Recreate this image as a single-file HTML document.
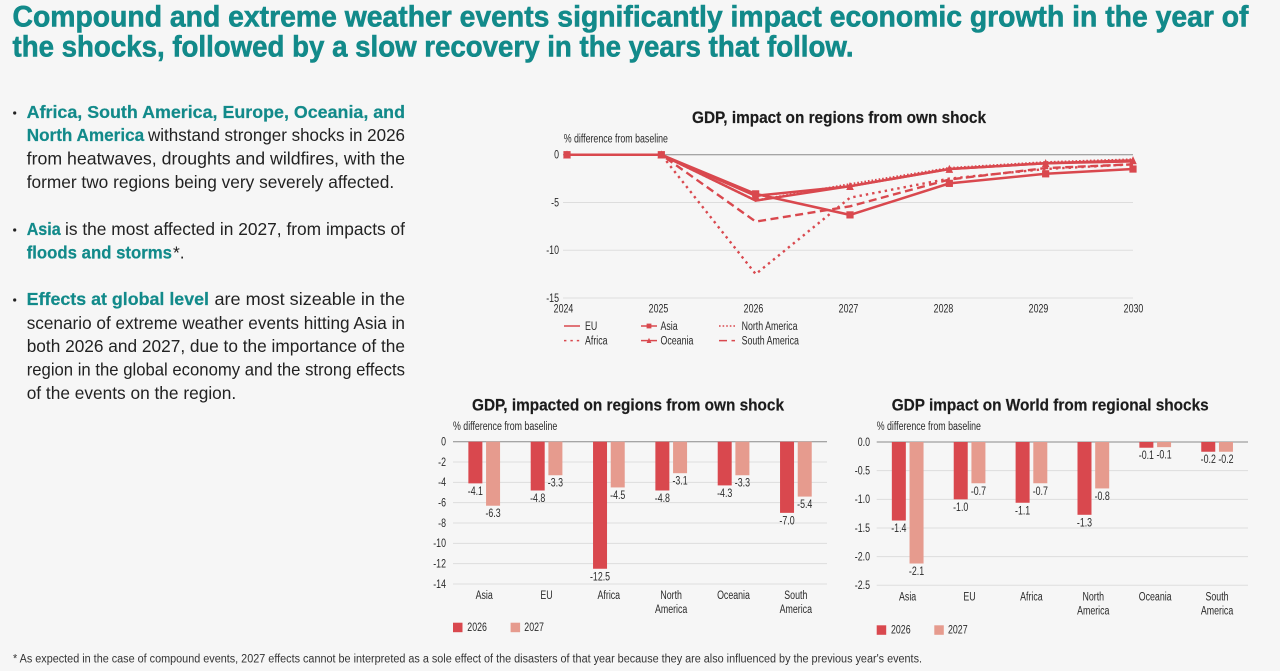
<!DOCTYPE html>
<html lang="en">
<head>
<meta charset="utf-8">
<title>Compound and extreme weather events</title>
<style>
html,body{margin:0;padding:0;background:#f6f6f6;width:1280px;height:671px;overflow:hidden}
svg{display:block;font-family:"Liberation Sans",sans-serif}
.h{font-size:30px;font-weight:700;fill:#128a8a;stroke:#128a8a;stroke-width:.6px}
.b{font-size:17.5px;fill:#222}
.bb{font-size:17.5px;font-weight:700;fill:#128a8a;stroke:#128a8a;stroke-width:.2px}
.t{font-size:16.5px;font-weight:700;fill:#1c1c1c;stroke:#1c1c1c;stroke-width:.2px}
.f{font-size:11.5px;fill:#333}
</style>
</head>
<body>
<svg id="page" xmlns="http://www.w3.org/2000/svg" width="1280" height="671" viewBox="0 0 1280 671">
<rect width="1280" height="671" fill="#f6f6f6"/>
<g>
<text class="h" x="12.5" y="26.7" textLength="1236" lengthAdjust="spacingAndGlyphs">Compound and extreme weather events significantly impact economic growth in the year of</text>
<text class="h" x="12.5" y="56.7" textLength="841" lengthAdjust="spacingAndGlyphs">the shocks, followed by a slow recovery in the years that follow.</text>
</g>
<g>
<circle cx="14.7" cy="113" r="1.6" fill="#222"/>
<circle cx="14.7" cy="230" r="1.6" fill="#222"/>
<circle cx="14.7" cy="300" r="1.6" fill="#222"/>
<text class="bb" x="26.7" y="118" textLength="378.3" lengthAdjust="spacingAndGlyphs">Africa, South America, Europe, Oceania, and</text>
<text class="bb" x="26.7" y="140.8" textLength="117.5" lengthAdjust="spacingAndGlyphs">North America</text>
<text class="b" x="148" y="140.8" textLength="257" lengthAdjust="spacingAndGlyphs">withstand stronger shocks in 2026</text>
<text class="b" x="26.7" y="164.3" textLength="378.3" lengthAdjust="spacingAndGlyphs">from heatwaves, droughts and wildfires, with the</text>
<text class="b" x="26.7" y="188" textLength="367.5" lengthAdjust="spacingAndGlyphs">former two regions being very severely affected.</text>
<text class="bb" x="26.7" y="235" textLength="34" lengthAdjust="spacingAndGlyphs">Asia</text>
<text class="b" x="65" y="235" textLength="340" lengthAdjust="spacingAndGlyphs">is the most affected in 2027, from impacts of</text>
<text class="bb" x="26.7" y="258.3" textLength="145.3" lengthAdjust="spacingAndGlyphs">floods and storms</text>
<text class="b" x="173" y="258.3">*.</text>
<text class="bb" x="26.7" y="305" textLength="182.3" lengthAdjust="spacingAndGlyphs">Effects at global level</text>
<text class="b" x="214.5" y="305" textLength="190.5" lengthAdjust="spacingAndGlyphs">are most sizeable in the</text>
<text class="b" x="26.7" y="329" textLength="378.3" lengthAdjust="spacingAndGlyphs">scenario of extreme weather events hitting Asia in</text>
<text class="b" x="26.7" y="351.8" textLength="378.3" lengthAdjust="spacingAndGlyphs">both 2026 and 2027, due to the importance of the</text>
<text class="b" x="26.7" y="375.6" textLength="378.3" lengthAdjust="spacingAndGlyphs">region in the global economy and the strong effects</text>
<text class="b" x="26.7" y="399" textLength="209.5" lengthAdjust="spacingAndGlyphs">of the events on the region.</text>
</g>
<text class="t" x="692" y="123" textLength="294" lengthAdjust="spacingAndGlyphs">GDP, impact on regions from own shock</text>
<text class="t" x="472" y="410.5" textLength="312" lengthAdjust="spacingAndGlyphs">GDP, impacted on regions from own shock</text>
<text class="t" x="891.7" y="410.5" textLength="317" lengthAdjust="spacingAndGlyphs">GDP impact on World from regional shocks</text>
<text class="f" x="13" y="662.5" textLength="909" lengthAdjust="spacingAndGlyphs">* As expected in the case of compound events, 2027 effects cannot be interpreted as a sole effect of the disasters of that year because they are also influenced by the previous year's events.</text>
<g id="line-chart"></g>
<g id="bars-regions"></g>
<g id="bars-world"></g>
</svg>
<script>
// ---- line chart data ----
const lineYears = [2024, 2025, 2026, 2027, 2028, 2029, 2030];
const lineTicks = [0, -5, -10, -15];
const lineEU = [0, 0, -4.8, -3.3, -1.5, -0.9, -0.7];
const lineAsia = [0, 0, -4.1, -6.3, -3.0, -2.0, -1.5];
const lineOceania = [0, 0, -4.3, -3.3, -1.5, -0.9, -0.6];
const lineAfrica = [0, 0, -12.5, -4.5, -2.5, -1.5, -1.0];
const lineNorthAmerica = [0, 0, -4.8, -3.1, -1.4, -0.8, -0.5];
const lineSouthAmerica = [0, 0, -7.0, -5.4, -2.6, -1.4, -1.0];

// ---- regional bar chart data ----
const barCategories = ['Asia', 'EU', 'Africa', 'North America', 'Oceania', 'South America'];
const regions2026 = [-4.1, -4.8, -12.5, -4.8, -4.3, -7.0];
const regions2027 = [-6.3, -3.3, -4.5, -3.1, -3.3, -5.4];
const regionTicks = [0, -2, -4, -6, -8, -10, -12, -14];
const regionTickLabels = ['0', '-2', '-4', '-6', '-8', '-10', '-12', '-14'];

// ---- world bar chart data ----
const world2026 = [-1.37, -1.0, -1.06, -1.27, -0.1, -0.17];
const world2027 = [-2.12, -0.72, -0.72, -0.81, -0.09, -0.17];
const worldTicks = [0, -0.5, -1, -1.5, -2, -2.5];
const worldTickLabels = ['0.0', '-0.5', '-1.0', '-1.5', '-2.0', '-2.5'];

const NS = 'http://www.w3.org/2000/svg';
const RED = '#d9484e';
const PINK = '#e69b8e';
const GRID = '#dddddd';
const AXIS = '#8a8a8a';

function mk(parent, tag, attrs) {
  const el = document.createElementNS(NS, tag);
  for (const k in attrs) el.setAttribute(k, attrs[k]);
  parent.appendChild(el);
  return el;
}
function txt(parent, x, y, s, anchor) {
  const el = mk(parent, 'text', {x: x, y: y, 'text-anchor': anchor, 'font-size': 11.5, fill: '#2a2a2a'});
  el.textContent = s;
  const w = el.getComputedTextLength();
  el.setAttribute('textLength', (w * 0.767).toFixed(2));
  el.setAttribute('lengthAdjust', 'spacingAndGlyphs');
  return el;
}

// ---- line chart ----
(function () {
  const g = document.getElementById('line-chart');
  const xShift = [0, 0, 0, 0, 5, 7, 0];
  const px = i => 567 + (1133 - 567) * i / (lineYears.length - 1) + xShift[i];
  const labelX = i => 563.5 + (1133.5 - 563.5) * i / (lineYears.length - 1);
  const py = v => 154.7 + (298 - 154.7) * (v / -15);

  lineTicks.forEach(t => {
    const grid = mk(g, 'line', {x1: 563, x2: 1133, y1: py(t), y2: py(t), stroke: t === 0 ? AXIS : GRID, 'stroke-width': 1});
    
    
    const lab = txt(g, 559, py(t) + 3.8, String(t), 'end');
    
    
  });
  lineYears.forEach((yr, i) => {
    const lab = txt(g, labelX(i), 312.7, String(yr), 'middle');
    
    
  });
  const yTitle = txt(g, 563.7, 142.7, '% difference from baseline', 'start');
  
  

  function marker(parent, x, y, kind, s) {
    if (kind === 'square') {
      return mk(parent, 'rect', {x: x - s, y: y - s, width: 2 * s, height: 2 * s, fill: RED});
    }
    return mk(parent, 'path', {d: 'M' + x + ' ' + (y - s - 0.5) + 'L' + (x + s) + ' ' + (y + s) + 'L' + (x - s) + ' ' + (y + s) + 'Z', fill: RED});
  }

  const series = [
    {key: 'north-america', label: 'North America', data: lineNorthAmerica, dash: '1.6 2', w: 2.4, lx: 719, ly: 326, tx: 741.6},
    {key: 'africa', label: 'Africa', data: lineAfrica, dash: '2.4 4', w: 2.4, lx: 564, ly: 340.6, tx: 585},
    {key: 'south-america', label: 'South America', data: lineSouthAmerica, dash: '8 4.5', w: 2.4, lx: 719, ly: 340.6, tx: 741.6},
    {key: 'eu', label: 'EU', data: lineEU, dash: '', w: 2.5, lx: 564, ly: 326, tx: 585},
    {key: 'oceania', label: 'Oceania', data: lineOceania, dash: '', w: 2.5, mark: 'triangle', lx: 641, ly: 340.6, tx: 660.5},
    {key: 'asia', label: 'Asia', data: lineAsia, dash: '', w: 2.5, mark: 'square', lx: 641, ly: 326, tx: 660.5}
  ];
  series.forEach(s => {
    const pts = s.data.map((v, i) => px(i).toFixed(1) + ',' + py(v).toFixed(1)).join(' ');
    const line = mk(g, 'polyline', {points: pts, fill: 'none', stroke: RED, 'stroke-width': s.w, 'stroke-dasharray': s.dash});
    
    
    if (s.mark) {
      s.data.forEach((v, i) => {
        const m = marker(g, px(i), py(v), s.mark, s.mark === 'square' ? 3.6 : 3.8);
        
        
      });
    }
    const key = mk(g, 'line', {x1: s.lx, x2: s.lx + 16, y1: s.ly, y2: s.ly, stroke: RED, 'stroke-width': 1.5, 'stroke-dasharray': s.dash});
    
    
    if (s.mark) {
      const km = marker(g, s.lx + 8, s.ly, s.mark, 2.4);
      
      
    }
    const lab = txt(g, s.tx, s.ly + 3.8, s.label, 'start');
    
    
  });
})();

// ---- bar charts ----
function drawBars(id, cfg) {
  const g = document.getElementById(id);
  const band = (cfg.x1 - cfg.x0) / barCategories.length;
  const py = v => cfg.y0 + (cfg.yMin - cfg.y0) * (v / cfg.min);
  const cx = i => cfg.x0 + band * (i + 0.5);

  cfg.ticks.forEach((t, i) => {
    const grid = mk(g, 'line', {x1: cfg.x0, x2: cfg.x1, y1: py(t), y2: py(t), stroke: t === 0 ? AXIS : GRID, 'stroke-width': 1});
    
    
    const lab = txt(g, cfg.tickEnd, py(t) + 3.8, cfg.tickLabels[i], 'end');
    
    
  });
  const yTitle = txt(g, cfg.x0, 430, '% difference from baseline', 'start');
  
  

  barCategories.forEach((c, i) => {
    const parts = c.split(' ');
    parts.forEach((p, k) => {
      const lab = txt(g, cx(i), cfg.catY + k * 14, p, 'middle');
      
      
    });
    const pair = [[cfg.a[i], RED, cx(i) - 15.8, '2026'], [cfg.b[i], PINK, cx(i) + 1.9, '2027']];
    pair.forEach(b => {
      const bar = mk(g, 'rect', {x: b[2], y: cfg.y0, width: 14, height: py(b[0]) - cfg.y0, fill: b[1]});
      
      
      const val = txt(g, b[2] + 7, py(b[0]) + 11.5, b[0].toFixed(1), 'middle');
      
      
    });
  });

  const sw1 = mk(g, 'rect', {x: cfg.x0, y: cfg.legY, width: 9.5, height: 9.5, fill: RED});
  
  
  const lg1 = txt(g, cfg.x0 + 14.3, cfg.legY + 8.3, '2026', 'start');
  
  
  const sw2 = mk(g, 'rect', {x: cfg.x0 + 57.6, y: cfg.legY, width: 9.5, height: 9.5, fill: PINK});
  
  
  const lg2 = txt(g, cfg.x0 + 71.3, cfg.legY + 8.3, '2027', 'start');
  
  
}

drawBars('bars-regions', {
  a: regions2026, b: regions2027, ticks: regionTicks, tickLabels: regionTickLabels,
  min: -14, x0: 453, x1: 827, y0: 441.7, yMin: 584, tickEnd: 446, catY: 599, legY: 622.7
});
drawBars('bars-world', {
  a: world2026, b: world2027, ticks: worldTicks, tickLabels: worldTickLabels,
  min: -2.5, x0: 876.7, x1: 1248, y0: 442, yMin: 585.3, tickEnd: 870, catY: 600.7, legY: 625.3
});
</script>
</body>
</html>
